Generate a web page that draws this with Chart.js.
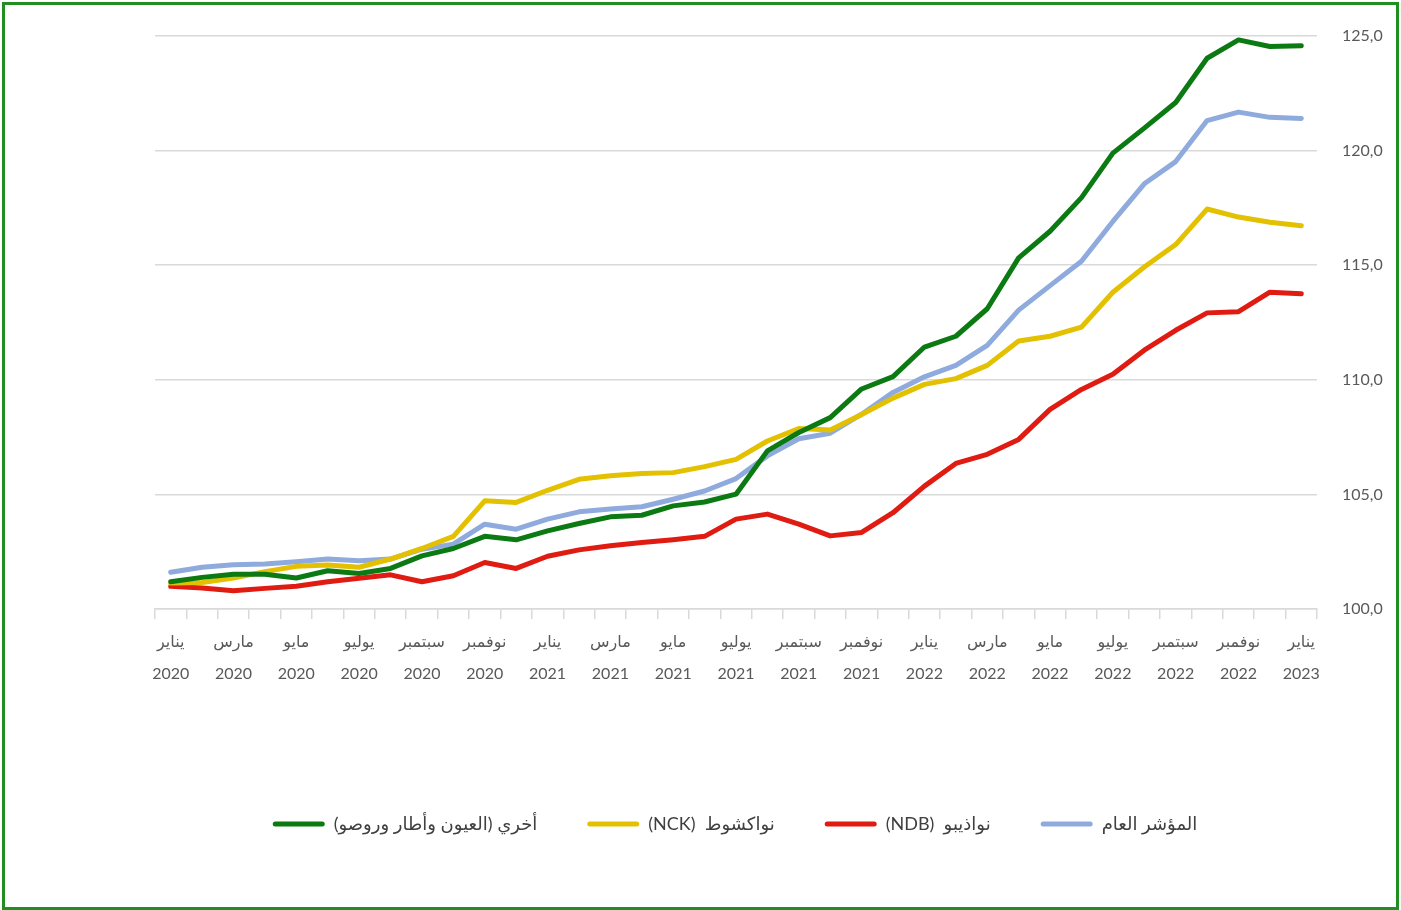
<!DOCTYPE html>
<html>
<head>
<meta charset="utf-8">
<script src="https://cdn.jsdelivr.net/npm/chart.js@4.4.1/dist/chart.umd.min.js"></script>
<style>
  html, body { margin: 0; padding: 0; background: #fff; }
  #wrap { position: relative; width: 1401px; height: 910px; }
  #frame { position: absolute; left: 2px; top: 2px; width: 1391px; height: 902px;
           border: 3px solid #1f8f1f; pointer-events: none; }
</style>
</head>
<body>
<div id="wrap">
  <canvas id="chart" width="1401" height="910"></canvas>
  <div id="frame"></div>
</div>
<script>
// Month names and years (Jan 2020 .. Jan 2023)
var monthNames = ['يناير', 'فبراير', 'مارس', 'أبريل', 'مايو', 'يونيو',
                  'يوليو', 'أغسطس', 'سبتمبر', 'أكتوبر', 'نوفمبر', 'ديسمبر'];
var years = [2020, 2021, 2022, 2023];

// Series values
var otherCities = [101.19, 101.38, 101.52, 101.52, 101.35, 101.67, 101.55, 101.77, 102.32, 102.64,
                   103.17, 103.02, 103.41, 103.73, 104.02, 104.09, 104.50, 104.67, 105.01, 106.90,
                   107.70, 108.35, 109.60, 110.14, 111.43, 111.90, 113.10, 115.32, 116.48, 117.95,
                   119.89, 120.98, 122.10, 124.03, 124.83, 124.54, 124.58];
var nouakchott = [101.13, 101.16, 101.35, 101.63, 101.86, 101.92, 101.82, 102.18, 102.64, 103.17,
                  104.72, 104.65, 105.18, 105.66, 105.81, 105.91, 105.95, 106.21, 106.53, 107.33,
                  107.87, 107.81, 108.49, 109.20, 109.80, 110.05, 110.63, 111.69, 111.90, 112.30,
                  113.82, 114.92, 115.90, 117.45, 117.10, 116.87, 116.72];
var nouadhibou = [100.99, 100.92, 100.80, 100.90, 100.99, 101.19, 101.34, 101.49, 101.19, 101.45,
                  102.03, 101.77, 102.30, 102.58, 102.76, 102.90, 103.02, 103.17, 103.92, 104.14,
                  103.70, 103.19, 103.34, 104.20, 105.36, 106.35, 106.75, 107.40, 108.71, 109.58,
                  110.24, 111.29, 112.16, 112.92, 112.97, 113.82, 113.75];
var generalIndex = [101.60, 101.82, 101.93, 101.96, 102.06, 102.18, 102.10, 102.18, 102.61, 102.83,
                    103.70, 103.48, 103.92, 104.24, 104.36, 104.46, 104.79, 105.15, 105.69, 106.68,
                    107.43, 107.67, 108.50, 109.45, 110.13, 110.63, 111.50, 113.04, 114.11, 115.17,
                    116.91, 118.55, 119.52, 121.31, 121.68, 121.45, 121.40];

var seriesNames = ['أخري (العيون وأطار وروصو)', 'نواكشوط  (NCK)', 'نواذيبو  (NDB)', 'المؤشر العام'];
var seriesColors = ['#0b7a12', '#e3c100', '#e01b12', '#8fabdd'];

// Build the category labels
var labels = [];
for (var i = 0; i < otherCities.length; i++) {
    labels.push([monthNames[i % 12], String(years[Math.floor(i / 12)])]);
}

var tickColor = '#595959';
var fontFamily = "Lato, 'DejaVu Sans', sans-serif";

// shift legend a bit to the left, like the original
var legendShift = {
    id: 'legendShift',
    afterLayout: function (chart) {
        chart.legend.left -= 43;
        chart.legend.right -= 43;
    }
};

new Chart(document.getElementById('chart').getContext('2d'), {
    type: 'line',
    data: {
        labels: labels,
        datasets: [otherCities, nouakchott, nouadhibou, generalIndex].map(function (vals, k) {
            return {
                label: seriesNames[k],
                data: vals,
                borderColor: seriesColors[k],
                backgroundColor: seriesColors[k],
                borderWidth: 5,
                pointRadius: 0,
                tension: 0,
                borderCapStyle: 'round',
                borderJoinStyle: 'round'
            };
        })
    },
    options: {
        responsive: false,
        animation: false,
        layout: { padding: { left: 155, top: 36, right: 0, bottom: 67 } },
        plugins: {
            tooltip: { enabled: false },
            legend: {
                position: 'bottom',
                textDirection: 'rtl',
                labels: {
                    boxWidth: 52,
                    boxHeight: 5,
                    padding: 50,
                    color: '#404040',
                    font: { family: fontFamily, size: 18 },
                    useBorderRadius: true,
                    borderRadius: 2.5,
                    generateLabels: function (chart) {
                        return Chart.defaults.plugins.legend.labels.generateLabels(chart).map(function (it) {
                            it.lineWidth = 0;
                            it.fillStyle = it.strokeStyle;
                            return it;
                        });
                    }
                }
            }
        },
        scales: {
            x: {
                offset: true,
                grid: { drawOnChartArea: false, drawTicks: true, tickLength: 10, color: '#d9d9d9', lineWidth: 1.5, offset: true },
                border: { display: true, color: '#d9d9d9', width: 1.5 },
                ticks: {
                    autoSkip: false,
                    maxRotation: 0,
                    minRotation: 0,
                    padding: 6,
                    color: tickColor,
                    font: { family: fontFamily, size: 16, lineHeight: 2.05 },
                    callback: function (value, index) {
                        return index % 2 === 0 ? labels[index] : '';
                    }
                },
                afterFit: function (scale) { scale.height = 156; }
            },
            y: {
                position: 'right',
                min: 100,
                max: 125,
                grid: { color: '#d9d9d9', lineWidth: 1.5, drawTicks: false },
                border: { display: false },
                ticks: {
                    stepSize: 5,
                    padding: 25,
                    color: tickColor,
                    font: { family: fontFamily, size: 16 },
                    callback: function (v) { return v.toFixed(1).replace('.', ','); }
                },
                afterFit: function (scale) { scale.width = 84; }
            }
        }
    },
    plugins: [legendShift]
});
</script>
</body>
</html>
